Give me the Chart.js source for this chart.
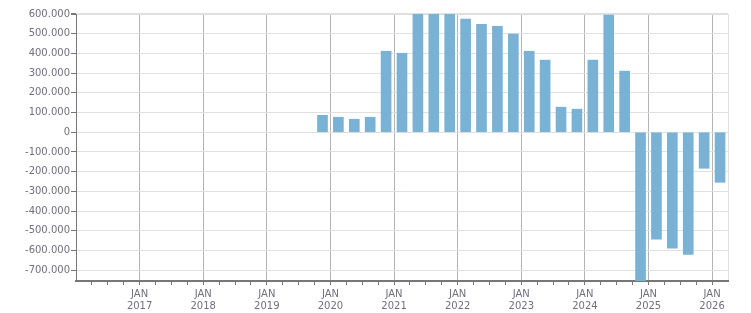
<!DOCTYPE html>
<html>
<head>
<meta charset="utf-8">
<script src="https://cdn.jsdelivr.net/npm/chart.js"></script>
<style>
  html, body { margin: 0; padding: 0; background: #fff; }
  #wrap { width: 751px; height: 313px; position: relative; }
</style>
</head>
<body>
<div id="wrap"><canvas id="chart"></canvas></div>
<script>
// Quarterly values, Q4 2019 .. Q1 2026
const quarters = [
  '2019-Q4',
  '2020-Q1', '2020-Q2', '2020-Q3', '2020-Q4',
  '2021-Q1', '2021-Q2', '2021-Q3', '2021-Q4',
  '2022-Q1', '2022-Q2', '2022-Q3', '2022-Q4',
  '2023-Q1', '2023-Q2', '2023-Q3', '2023-Q4',
  '2024-Q1', '2024-Q2', '2024-Q3', '2024-Q4',
  '2025-Q1', '2025-Q2', '2025-Q3', '2025-Q4',
  '2026-Q1'
];
const values = [
  86000,
  76000, 66000, 76000, 411000,
  401000, 650000, 700000, 640000,
  574000, 548000, 538000, 498000,
  411000, 366000, 127000, 117000,
  366000, 594000, 310000, -800000,
  -543000, -589000, -620000, -183000,
  -254000
];
const yTicks = [600000, 500000, 400000, 300000, 200000, 100000, 0,
  -100000, -200000, -300000, -400000, -500000, -600000, -700000];
const yearLabels = [2017, 2018, 2019, 2020, 2021, 2022, 2023, 2024, 2025, 2026];
const monthLabel = 'JAN';

const xMin = 2016, xMax = 2026.25;
const yMin = -755000, yMax = 600000;

// quarter -> middle of the quarter on a decimal-year axis
function quarterMid(q) {
  const [y, n] = q.split('-Q');
  return Number(y) + (Number(n) - 1) * 0.25 + 0.125;
}

function fmt(v) {
  const s = String(Math.abs(v)).replace(/\B(?=(\d{3})+(?!\d))/g, '.');
  return (v < 0 ? '-' : '') + s;
}

const points = quarters.map((q, i) => ({ x: quarterMid(q), y: values[i] }));

const labelColor = '#6f6f80';
const font = { family: 'DejaVu Sans', size: 10, lineHeight: 1.25 };

new Chart(document.getElementById('chart'), {
  type: 'bar',
  data: {
    datasets: [{
      data: points,
      backgroundColor: '#79b2d4',
      borderWidth: 0,
      barThickness: 10
    }]
  },
  options: {
    responsive: true,
    maintainAspectRatio: false,
    animation: false,
    layout: { padding: { left: 0, right: 23, top: 14, bottom: 0 } },
    plugins: {
      legend: { display: false },
      tooltip: { enabled: false }
    },
    scales: {
      x: {
        type: 'linear',
        min: xMin,
        max: xMax,
        offset: false,
        grid: {
          offset: false,
          drawOnChartArea: true,
          tickLength: 4,
          color: ctx => {
            const v = ctx.tick ? ctx.tick.value : null;
            if (v === xMax) return '#e0e0e0';
            if (v !== null && Number.isInteger(v) && v > xMin) return '#b4b4b4';
            return 'rgba(0,0,0,0)';
          },
          tickColor: ctx => (ctx.tick && (ctx.tick.value === xMin || ctx.tick.value === xMax))
            ? 'rgba(0,0,0,0)' : '#777'
        },
        border: { color: '#777', width: 2 },
        ticks: {
          stepSize: 0.25,
          autoSkip: false,
          maxRotation: 0,
          padding: 3,
          color: labelColor,
          font: font,
          callback: v => yearLabels.includes(v) ? [monthLabel, String(v)] : ''
        },
        afterFit: s => { s.height = 32; }
      },
      y: {
        min: yMin,
        max: yMax,
        grid: {
          color: '#e0e0e0',
          lineWidth: ctx => (ctx.tick && ctx.tick.value === yMax) ? 2 : 1,
          tickLength: 5,
          tickColor: '#777'
        },
        border: { color: '#777', width: 1 },
        ticks: {
          autoSkip: false,
          padding: 1,
          color: labelColor,
          font: font,
          callback: v => fmt(v)
        },
        afterBuildTicks: s => { s.ticks = yTicks.map(v => ({ value: v })); },
        afterFit: s => { s.width = 76; }
      }
    }
  }
});
</script>
</body>
</html>
